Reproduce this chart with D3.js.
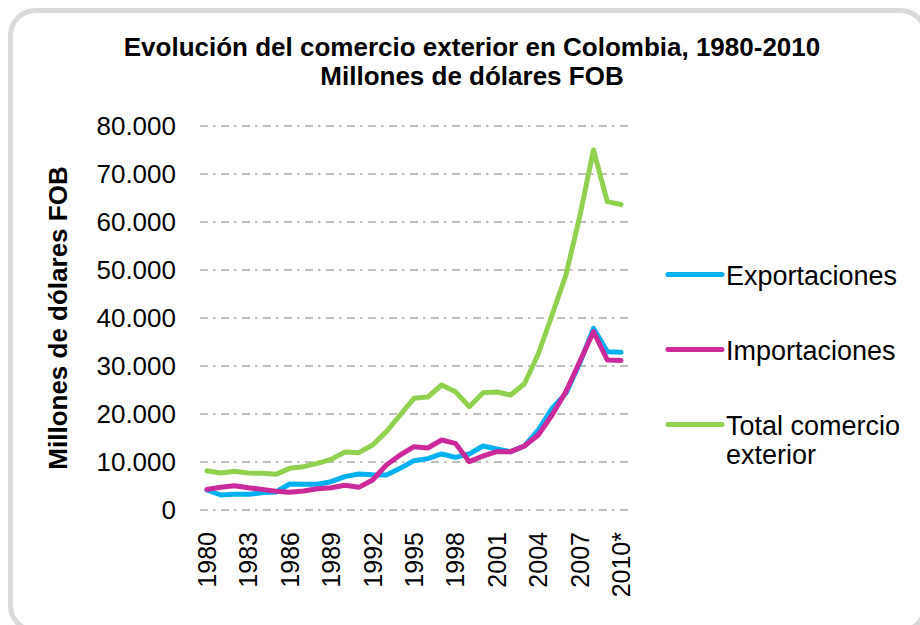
<!DOCTYPE html>
<html><head><meta charset="utf-8">
<script src="https://cdn.jsdelivr.net/npm/d3@7"></script>
<style>html,body{margin:0;padding:0;background:#fff;}svg{display:block;font-family:"Liberation Sans",Arial,sans-serif;}</style>
</head><body>
<svg id="chart" width="920" height="625"></svg>
<script>
const years = ["1980","1981","1982","1983","1984","1985","1986","1987","1988","1989","1990","1991","1992","1993","1994","1995","1996","1997","1998","1999","2000","2001","2002","2003","2004","2005","2006","2007","2008","2009","2010*"];
const exportaciones = [4170,3120,3260,3260,3610,3750,5420,5350,5350,5900,6950,7500,7360,7290,8680,10280,10700,11670,10970,11670,13330,12710,12150,13330,16670,21180,24300,30560,37850,32990,32850];
const importaciones = [4300,4720,5070,4650,4300,3890,3680,3960,4440,4650,5140,4720,6250,9380,11460,13190,12920,14580,13890,10070,11250,12150,12150,13330,15630,19790,24650,30900,37150,31250,31150];
const totalComercio = [8190,7700,8060,7700,7650,7430,8680,9030,9720,10550,12080,11940,13540,16320,19790,23260,23540,26040,24650,21530,24440,24580,23960,26300,32500,40630,48900,61100,75000,64240,63650];
const yTicks = [0,10000,20000,30000,40000,50000,60000,70000,80000];
const xLabelYears = ["1980","1983","1986","1989","1992","1995","1998","2001","2004","2007","2010*"];
const seriesNames = ["Exportaciones","Importaciones","Total comercio exterior"];
const seriesColors = ["#00b0f0","#cc2a9b","#92d050"];
const titleLines = ["Evolución del comercio exterior en Colombia, 1980-2010","Millones de dólares FOB"];
const yTitle = "Millones de dólares FOB";

const svg = d3.select("#chart");
// frame
svg.append("rect").attr("x",10.5).attr("y",10.5).attr("width",915).attr("height",620)
  .attr("rx",25).attr("ry",25).attr("fill","#fff").attr("stroke","#d9d9d9").attr("stroke-width",5);

const x = d3.scaleBand().domain(years).range([200,628]);
const y = d3.scaleLinear().domain([0,80000]).range([510,126]);
const fmt = v => d3.format(",")(v).replace(/,/g,".");

// gridlines
svg.append("g").selectAll("line").data(yTicks).join("line")
  .attr("x1",200).attr("x2",628).attr("y1",d=>y(d)).attr("y2",d=>y(d))
  .attr("stroke","#bfbfbf").attr("stroke-width",2).attr("stroke-dasharray","8,5,2.5,5.5");

// y axis labels
const yAxis = d3.axisLeft(y).tickValues(yTicks).tickFormat(fmt).tickSize(0).tickPadding(0);
const gy = svg.append("g").attr("transform","translate(176,0)").call(yAxis);
gy.select(".domain").remove();
gy.selectAll("text").attr("font-size",26).attr("fill","#000").attr("font-family","Liberation Sans, Arial, sans-serif");

// x axis labels
const xAxis = d3.axisBottom(x).tickValues(xLabelYears).tickSize(0).tickPadding(0);
const gx = svg.append("g").attr("transform","translate(0,532)").call(xAxis);
gx.select(".domain").remove();
gx.selectAll("text").attr("font-size",25).attr("fill","#000").attr("font-family","Liberation Sans, Arial, sans-serif")
  .attr("text-anchor","end").attr("dy",null).attr("y",0).attr("x",0)
  .attr("dominant-baseline","central").attr("transform","rotate(-90)");

// lines
const data = [exportaciones, importaciones, totalComercio];
const line = d3.line().x((d,i)=>x(years[i])+x.bandwidth()/2).y(d=>y(d));
svg.append("g").selectAll("path").data(data).join("path")
  .attr("d",line).attr("fill","none").attr("stroke",(d,i)=>seriesColors[i])
  .attr("stroke-width",5).attr("stroke-linejoin","round").attr("stroke-linecap","round");

// title
svg.append("g").selectAll("text").data(titleLines).join("text")
  .attr("x",472).attr("y",(d,i)=>56+i*29).attr("text-anchor","middle")
  .attr("font-size",26).attr("font-weight","bold").attr("fill","#000").text(d=>d);

// y title
svg.append("text").attr("transform","translate(58,318) rotate(-90)")
  .attr("text-anchor","middle").attr("dominant-baseline","central")
  .attr("font-size",26).attr("font-weight","bold").attr("fill","#000").text(yTitle);

// legend
const legY = [274.5,349.5,424.5];
const lg = svg.append("g").selectAll("g").data(seriesNames).join("g")
  .attr("transform",(d,i)=>`translate(0,${legY[i]})`);
lg.append("line").attr("x1",668).attr("x2",722).attr("y1",0).attr("y2",0)
  .attr("stroke",(d,i)=>seriesColors[i]).attr("stroke-width",5).attr("stroke-linecap","round");
const lt = lg.append("text").attr("x",726).attr("y",10).attr("font-size",27).attr("fill","#000");
lt.each(function(d){
  const parts = d === "Total comercio exterior" ? ["Total comercio","exterior"] : [d];
  d3.select(this).selectAll("tspan").data(parts).join("tspan")
    .attr("x",726).attr("dy",(p,j)=>j===0?0:29).text(p=>p);
});
</script>
</body></html>
